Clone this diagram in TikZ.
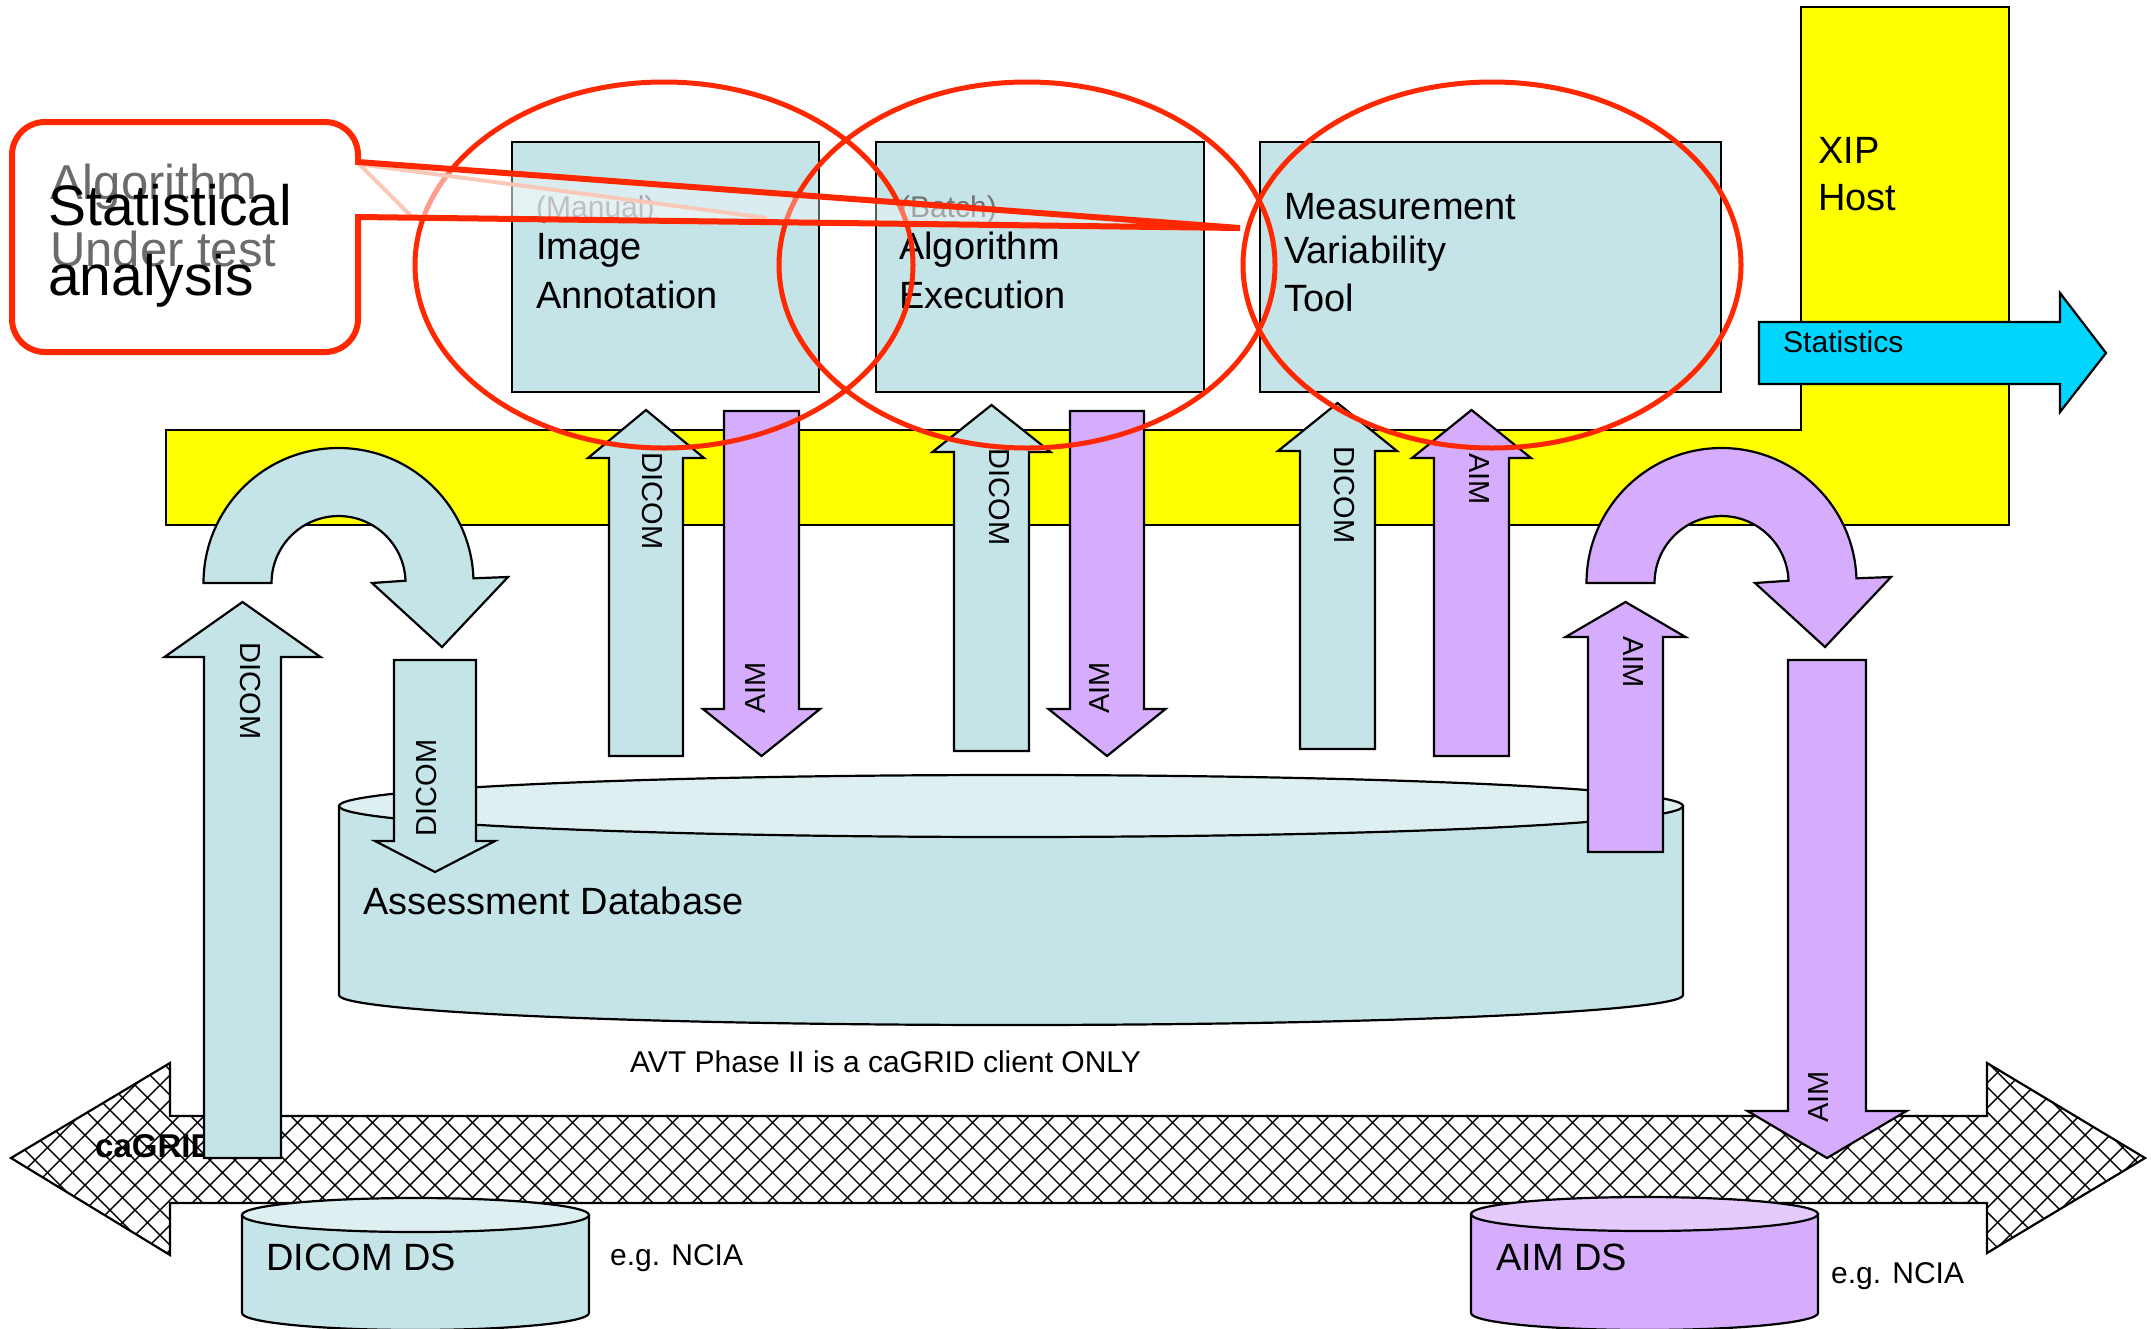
\documentclass[tikz,border=0pt]{standalone}
\usepackage{fontspec}
\setmainfont{Liberation Sans}
\definecolor{toolblue}{RGB}{197,228,232}
\definecolor{toptint}{RGB}{222,239,242}
\definecolor{aimpurple}{RGB}{214,172,252}
\definecolor{aimtop}{RGB}{228,202,253}
\definecolor{hostyellow}{RGB}{255,255,0}
\definecolor{statcyan}{RGB}{0,213,255}
\definecolor{markred}{RGB}{255,40,0}
\definecolor{ghostred}{RGB}{246,172,148}
\newcommand{\fsLarge}{\fontsize{38}{46}\selectfont}
\newcommand{\fsMid}{\fontsize{30}{36}\selectfont}
\newcommand{\fsArrow}{\fontsize{29}{34}\selectfont}
% vertical block arrow: style, centre x, half shaft, half head, tail y, head base y, tip y
\newcommand{\vblockarrow}[7]{%
  \draw[#1] ({#2-#3},#5) -- ({#2-#3},#6) -- ({#2-#4},#6) -- (#2,#7)
    -- ({#2+#4},#6) -- ({#2+#3},#6) -- ({#2+#3},#5) -- cycle;}
% U-turn arrow: style, horizontal shift
\newcommand{\uturnarrow}[2]{%
  \begin{scope}[xshift=#2]
  \draw[#1] (203.5,583) arc[start angle=180,end angle=358,radius=135]
    -- (508,577) -- (442,647) -- (372,583) -- (405.5,580.7)
    arc[start angle=358,end angle=180,radius=67] -- cycle;
  \end{scope}}
\begin{document}
\begin{tikzpicture}[x=1pt,y=-1pt,line join=miter,
  outl/.style={draw=black,line width=2.2pt},
  bluefill/.style={outl,fill=toolblue},
  purplefill/.style={outl,fill=aimpurple},
  toolbox/.style={bluefill,rectangle,anchor=north west,inner sep=0pt,outer sep=0pt},
  txt/.style={inner sep=0pt,anchor=base west},
  big/.style={txt,font=\fsLarge},
  mid/.style={txt,font=\fsMid},
  arrowlbl/.style={inner sep=0pt,font=\fsArrow},
  redring/.style={draw=markred,line width=5pt},
  ghostline/.style={draw=ghostred,line width=4pt}]

\path[use as bounding box] (0,0) rectangle (2151,1328);

% ---- caGRID double arrow with diamond hatching ----
\def\gridpath{(11,1158) -- (170,1063) -- (170,1116) -- (1987,1116) -- (1987,1063)
  -- (2145,1158) -- (1987,1253) -- (1987,1203) -- (170,1203) -- (170,1255) -- cycle}
\fill[white] \gridpath;
\begin{scope}
  \clip \gridpath;
  \foreach \k in {-12,...,92} {
    \draw[line width=1.4pt] (\k*25,1050) -- ++(220,220);
    \draw[line width=1.4pt] (\k*25,1270) -- ++(220,-220);
  }
\end{scope}
\draw[outl] \gridpath;
\node[txt,font=\fontsize{33}{38}\selectfont\bfseries] (cagrid) at (95,1157) {caGRID};

% ---- XIP host frame ----
\draw[outl,fill=hostyellow] (166,430) -- (1801,430) -- (1801,7) -- (2009,7)
  -- (2009,525) -- (166,525) -- cycle;
\node[big] (xip1) at (1818,163) {XIP};
\node[big] (xip2) at (1818,210) {Host};

% ---- statistics output ----
\draw[outl,fill=statcyan] (1759,322) -- (2060,322) -- (2060,293) -- (2106,353)
  -- (2060,412) -- (2060,384) -- (1759,384) -- cycle;
\node[mid] (stats) at (1783,352) {Statistics};

% ---- tool boxes ----
\node[toolbox,minimum width=307pt,minimum height=250pt] (annot) at (512,142) {};
\node[toolbox,minimum width=328pt,minimum height=250pt] (algo) at (876,142) {};
\node[toolbox,minimum width=461pt,minimum height=250pt] (mvt) at (1260,142) {};
\node[mid,text=black!55] (manual) at (536,217) {(Manual)};
\node[big] (annot1) at (536,259) {Image};
\node[big] (annot2) at (536,308) {Annotation};
\node[mid,text=black!55] (batch) at (900,217) {(Batch)};
\node[big] (algo1) at (899,259) {Algorithm};
\node[big] (algo2) at (899,308) {Execution};
\node[big] (mvt1) at (1284,219) {Measurement};
\node[big] (mvt2) at (1284,263) {Variability};
\node[big] (mvt3) at (1284,311) {Tool};

% ---- assessment database ----
\draw[outl,fill=toolblue] (339,806) -- (339,995)
  arc[start angle=180,end angle=0,x radius=672,y radius=30] -- (1683,806) -- cycle;
\draw[outl,fill=toptint] (1011,806) ellipse[x radius=672,y radius=31];
\node[big] (adb) at (363,914) {Assessment Database};

% ---- data sources ----
\draw[outl,fill=toolblue] (242,1215) -- (242,1313)
  arc[start angle=180,end angle=0,x radius=173.5,y radius=17] -- (589,1215) -- cycle;
\draw[outl,fill=toptint] (415.5,1215) ellipse[x radius=173.5,y radius=17];
\node[big] (dicomds) at (266,1270) {DICOM DS};
\draw[outl,fill=aimpurple] (1471,1214) -- (1471,1313)
  arc[start angle=180,end angle=0,x radius=173.5,y radius=17] -- (1818,1214) -- cycle;
\draw[outl,fill=aimtop] (1644.5,1214) ellipse[x radius=173.5,y radius=17];
\node[big] (aimds) at (1496,1270) {AIM DS};
\node[mid] (ncia1) at (610,1265) {e.g. NCIA};
\node[mid] (ncia2) at (1831,1283) {e.g. NCIA};

% ---- U-turn arrows ----
\uturnarrow{bluefill}{0}
\uturnarrow{purplefill}{1383}

% ---- straight block arrows ----
\vblockarrow{bluefill}{242.5}{38.5}{78}{1158}{657}{602}
\vblockarrow{bluefill}{435}{41}{60}{660}{841}{872}
\vblockarrow{purplefill}{1625.5}{37.5}{60}{852}{637}{602}
\vblockarrow{purplefill}{1827}{39}{79.5}{660}{1111}{1158}
\vblockarrow{bluefill}{646}{37}{58}{756}{458}{410}
\vblockarrow{purplefill}{761.5}{37.5}{58.5}{411}{709}{756}
\vblockarrow{bluefill}{991.5}{37.5}{59}{751}{452}{405}
\vblockarrow{purplefill}{1107}{37}{58.5}{411}{709}{756}
\vblockarrow{bluefill}{1337.5}{37.5}{59.5}{749}{451}{403}
\vblockarrow{purplefill}{1471.5}{37.5}{59.5}{756}{458}{410}

\node[arrowlbl,rotate=-90] (l1) at (250,691) {DICOM};
\node[arrowlbl,rotate=90] (l2) at (427,788) {DICOM};
\node[arrowlbl,rotate=-90] (l3) at (1633,662) {AIM};
\node[arrowlbl,rotate=90] (l4) at (1818,1097) {AIM};
\node[arrowlbl,rotate=-90] (l5) at (652,501) {DICOM};
\node[arrowlbl,rotate=90] (l6) at (756,688) {AIM};
\node[arrowlbl,rotate=-90] (l7) at (999,497) {DICOM};
\node[arrowlbl,rotate=90] (l8) at (1100,688) {AIM};
\node[arrowlbl,rotate=-90] (l9) at (1344,495) {DICOM};
\node[arrowlbl,rotate=-90] (l10) at (1479,479) {AIM};

\node[mid] (avt) at (630,1072) {AVT Phase II is a caGRID client ONLY};

% ---- red highlight rings ----
\draw[redring] (664,265) ellipse[x radius=249,y radius=183];
\draw[redring] (1027,265) ellipse[x radius=248,y radius=183];
\draw[redring] (1492,265) ellipse[x radius=249,y radius=183];

% ---- callout ----
\fill[white,opacity=0.3] (358,164) -- (767,218) -- (358,217) -- cycle;
\draw[ghostline] (358,164) -- (767,218);
\draw[ghostline] (358,163) -- (413,218);
\fill[white] (12,122) rectangle (358,352);
\fill[white,opacity=0.35] (358,162) -- (1240,228) -- (358,217) -- cycle;
\draw[markred,line width=6pt] (358,217) -- (358,319)
  arc[start angle=0,end angle=90,radius=33] -- (45,352)
  arc[start angle=90,end angle=180,radius=33] -- (12,155)
  arc[start angle=180,end angle=270,radius=33] -- (325,122)
  arc[start angle=270,end angle=360,radius=33] -- (358,162)
  -- (1240,228) -- cycle;
\node[txt,font=\fontsize{49}{56}\selectfont,text=black!58] (ghost1) at (50,199) {Algorithm};
\node[txt,font=\fontsize{49}{56}\selectfont,text=black!58] (ghost2) at (50,266) {Under test};
\node[txt,font=\fontsize{57}{66}\selectfont] (call1) at (48,225) {Statistical};
\node[txt,font=\fontsize{57}{66}\selectfont] (call2) at (48,295) {analysis};
\end{tikzpicture}
\end{document}
